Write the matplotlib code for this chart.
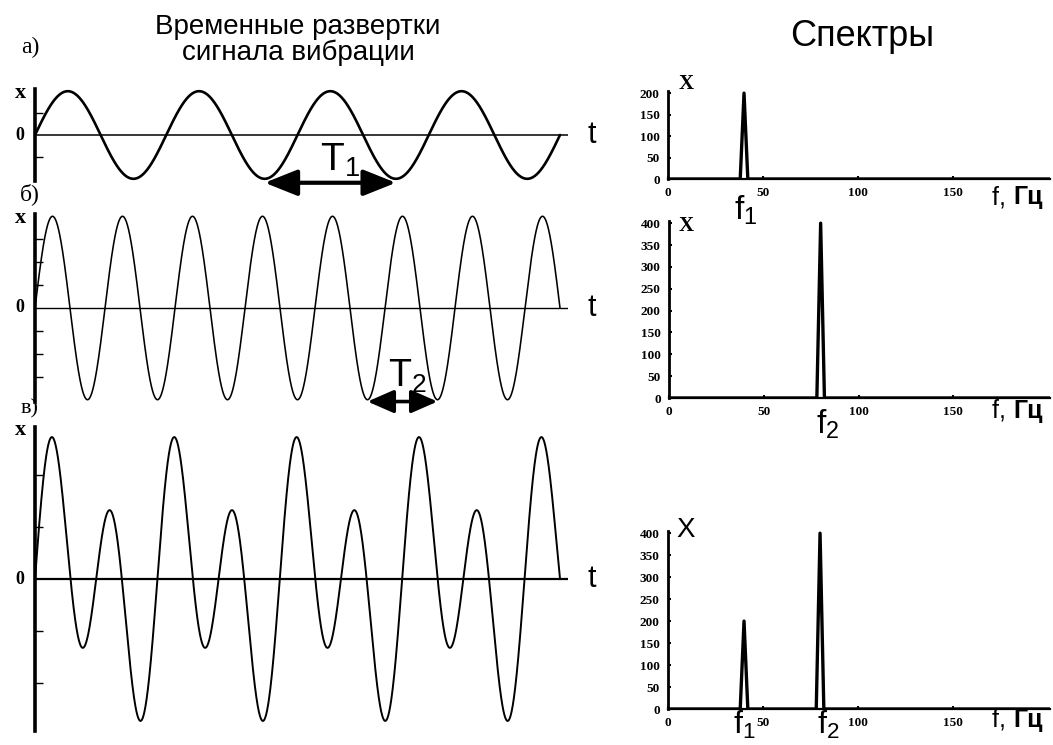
import numpy as np
import matplotlib
matplotlib.use('Agg')
import matplotlib.pyplot as plt

plt.rcParams['font.family'] = ['Liberation Sans', 'DejaVu Sans']
plt.rcParams['mathtext.fontset'] = 'custom'
plt.rcParams['mathtext.rm'] = 'Liberation Sans'

# time signals: x = a1*sin(2*pi*n*t) + a2*sin(2*pi*2n*t), t in 0..1
panel_names = ['а)', 'б)', 'в)']
base_cycles = [4.0, 3.75, 4.29]
amp_f1 = [1.0, 0.0, 1.0]
amp_f2 = [0.0, 2.0, 2.0]

# spectra
spec_freq = [0, 38, 40, 42, 78, 80, 82, 201]
spec_a = [0, 0, 200, 0, 0, 0, 0, 0]
spec_b = [0, 0, 0, 0, 0, 400, 0, 0]
spec_c = [0, 0, 200, 0, 0, 400, 0, 0]
spec_ticks_x = [0, 50, 100, 150]
spec_ticks_a = [0, 50, 100, 150, 200]
spec_ticks_bc = [0, 50, 100, 150, 200, 250, 300, 350, 400]

W, H = 1053, 745
fig = plt.figure(figsize=(W / 100, H / 100), dpi=100)


def px_axes(x0, y0, x1, y1):
    return fig.add_axes([x0 / W, 1 - y1 / H, (x1 - x0) / W, (y1 - y0) / H])


def fy(y):
    return 1 - y / H


def fx(x):
    return x / W


serif = 'Liberation Serif'

# ---------------- time plots
time_boxes = [(35, 89, 568, 181), (35, 214, 568, 402), (35, 427, 568, 731)]
time_ylims = [1.05, 2.05, 2.93]
time_yticks = [[-0.5, 0.5], [-1.5, -1, -0.5, 0.5, 1, 1.5], [-2, -1, 1, 2]]
wave_lw = [1.9, 1.15, 1.4]
zero_lw = [1.1, 1.0, 1.6]

t = np.linspace(0, 1, 2000)
time_axes = []
for i in range(3):
    x0, y0, x1, y1 = time_boxes[i]
    ax = px_axes(x0, y0, x1, y1)
    n = base_cycles[i]
    sig = amp_f1[i] * np.sin(2 * np.pi * n * t) + amp_f2[i] * np.sin(4 * np.pi * n * t)
    ax.plot(t, sig, color='black', lw=wave_lw[i], solid_capstyle='round')
    ax.axhline(0, color='black', lw=zero_lw[i])
    ax.set_xlim(0, (x1 - x0) / 525.0)
    ax.set_ylim(-time_ylims[i], time_ylims[i])
    for s in ['top', 'right', 'bottom']:
        ax.spines[s].set_visible(False)
    ax.spines['left'].set_linewidth(2.6)
    ax.set_xticks([])
    ax.set_yticks(time_yticks[i])
    ax.set_yticklabels([])
    ax.tick_params(axis='y', direction='in', length=6, width=1.0)
    ax.patch.set_alpha(0)
    time_axes.append(ax)

# axis labels for time plots
for i, (ylab, yzero) in enumerate([(93, 135), (218, 308), (430, 579)]):
    fig.text(fx(20), fy(ylab), 'x', family=serif, weight='bold', fontsize=16,
             ha='center', va='center')
    fig.text(fx(20), fy(yzero), '0', family=serif, weight='bold', fontsize=13,
             ha='center', va='center')
    fig.text(fx(592), fy(yzero), 't', fontsize=22, ha='center', va='center')

fig.text(fx(30), fy(47), panel_names[0], family=serif, fontsize=17, ha='center', va='center')
fig.text(fx(30), fy(194), panel_names[1], family=serif, fontsize=17, ha='center', va='center')
fig.text(fx(30), fy(409), panel_names[2], family=serif, fontsize=16, ha='center', va='center')

fig.text(fx(298), fy(40), 'Временные развертки\nсигнала вибрации', fontsize=20,
         ha='center', va='center', linespacing=0.95)
fig.text(fx(862), fy(37), 'Спектры', fontsize=26, ha='center', va='center')

# period arrows
ax = time_axes[0]
n = base_cycles[0]
ax.annotate('', xy=(1.75 / n, -1.09), xytext=(2.75 / n, -1.09),
            arrowprops=dict(arrowstyle='<|-|>,head_length=1.0,head_width=0.4',
                            color='black', lw=3, shrinkA=0, shrinkB=0,
                            mutation_scale=20),
            annotation_clip=False)
fig.text(fx(340), fy(160), r'$\mathregular{T_1}$', fontsize=28, ha='center', va='center')

ax = time_axes[1]
n = base_cycles[1] * 2
ax.annotate('', xy=(4.75 / n, -2.04), xytext=(5.75 / n, -2.04),
            arrowprops=dict(arrowstyle='<|-|>,head_length=0.8,head_width=0.35',
                            color='black', lw=2.6, shrinkA=0, shrinkB=0,
                            mutation_scale=20),
            annotation_clip=False)
fig.text(fx(407), fy(376), r'$\mathregular{T_2}$', fontsize=27, ha='center', va='center')

# ---------------- spectra
spec_boxes = [(668, 91, 1050, 179), (669, 221, 1050, 398), (668, 531, 1050, 709)]
spec_vals = [spec_a, spec_b, spec_c]
spec_yticks = [spec_ticks_a, spec_ticks_bc, spec_ticks_bc]
spec_ylims = [205, 405, 405]
for i in range(3):
    x0, y0, x1, y1 = spec_boxes[i]
    ax = px_axes(x0, y0, x1, y1)
    ax.plot(spec_freq, spec_vals[i], color='black', lw=2.4)
    ax.set_xlim(0, 201)
    ax.set_ylim(0, spec_ylims[i])
    ax.spines['top'].set_visible(False)
    ax.spines['right'].set_visible(False)
    ax.spines['left'].set_linewidth(2.0)
    ax.spines['bottom'].set_linewidth(1.6)
    ax.set_xticks(spec_ticks_x)
    ax.set_yticks(spec_yticks[i])
    ax.tick_params(direction='in', length=2.5, width=1.5, labelsize=9.5, pad=6)
    for lab in ax.get_xticklabels() + ax.get_yticklabels():
        lab.set_family(serif)
        lab.set_weight('bold')
    ax.patch.set_alpha(0)

# spectra labels
fig.text(fx(686), fy(84), 'X', family=serif, weight='bold', fontsize=15, ha='center', va='center')
fig.text(fx(686), fy(226), 'X', family=serif, weight='bold', fontsize=15, ha='center', va='center')
fig.text(fx(686), fy(530), 'X', fontsize=20, ha='center', va='center')

for yy in [197, 411, 720]:
    fig.text(fx(1013), fy(yy), 'f, ', fontsize=18, ha='right', va='center')
    fig.text(fx(1013), fy(yy), 'Гц', fontsize=18, weight='bold', ha='left', va='center')

fig.text(fx(746), fy(210), r'$\mathregular{f_1}$', fontsize=24, ha='center', va='center')
fig.text(fx(828), fy(424), r'$\mathregular{f_2}$', fontsize=24, ha='center', va='center')
fig.text(fx(744), fy(725), r'$\mathregular{f_1}$', fontsize=23, ha='center', va='center')
fig.text(fx(828), fy(725), r'$\mathregular{f_2}$', fontsize=23, ha='center', va='center')

fig.savefig('out.png', dpi=100, facecolor='white')
